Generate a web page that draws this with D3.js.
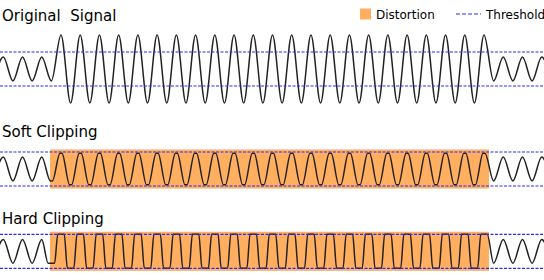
<!DOCTYPE html>
<html>
<head>
<meta charset="utf-8">
<script src="https://cdn.jsdelivr.net/npm/d3@7"></script>
<style>
    body { margin: 0; background: #fff; }
    svg { display: block; font-family: 'DejaVu Sans', sans-serif; }
</style>
</head>
<body>
<div id="chart"></div>
<script>
// panel titles
const panelTitles = ['Original  Signal', 'Soft Clipping', 'Hard Clipping'];

// signal extrema, one per half cycle, starting at t = -0.5 cycles
const firstExtremumTime = -0.5;

const originalExtrema = [
    -0.7, 0.7, -0.7, 0.7, -0.7, 0.7, -0.7,
    2, -2, 2, -2, 2, -2, 2, -2, 2, -2, 2, -2, 2, -2, 2, -2, 2, -2, 2, -2, 2, -2, 2, -2, 2,
    -2, 2, -2, 2, -2, 2, -2, 2, -2, 2, -2, 2, -2, 2, -2, 2, -2, 2, -2, 2,
    -0.7, 0.7, -0.7, 0.7, -0.7, 0.7, -0.7
];
const softExtrema = [
    -0.7, 0.7, -0.7, 0.7, -0.7, 0.7, -0.7,
    0.93, -0.93, 0.93, -0.93, 0.93, -0.93, 0.93, -0.93, 0.93, -0.93, 0.93, -0.93, 0.93, -0.93, 0.93,
    -0.93, 0.93, -0.93, 0.93, -0.93, 0.93, -0.93, 0.93, -0.93, 0.93, -0.93, 0.93, -0.93, 0.93, -0.93,
    0.93, -0.93, 0.93, -0.93, 0.93, -0.93, 0.93, -0.93, 0.93, -0.93, 0.93, -0.93, 0.93, -0.93, 0.93,
    -0.7, 0.7, -0.7, 0.7, -0.7, 0.7, -0.7
];
const hardExtrema = [
    -0.7, 0.7, -0.7, 0.7, -0.7, 0.7, -0.7,
    1, -1, 1, -1, 1, -1, 1, -1, 1, -1, 1, -1, 1, -1, 1, -1, 1, -1, 1, -1, 1, -1, 1, -1, 1,
    -1, 1, -1, 1, -1, 1, -1, 1, -1, 1, -1, 1, -1, 1, -1, 1, -1, 1, -1, 1,
    -0.7, 0.7, -0.7, 0.7, -0.7, 0.7, -0.7
];

// clipping threshold and the distorted stretch (in cycles)
const threshold = 1;
const distortionSpan = [2.43, 25.26];
const distortionLevel = 1.15;

// half width of the flat tops (cycles) per panel
const plateauWidth = [0, 0.05, 1 / 6];

const legendLabels = ['Distortion', 'Threshold'];

window.addEventListener('load', function() {
    buildChart();
});

function buildChart() {
    const svgWidth = 544;
    const svgHeight = 280;
    const pixelsPerUnit = 17;
    const panelCenters = [69, 169, 251.3];
    const titleBaselines = [21, 137, 224];
    const orange = '#ffaf5f';
    const blue = '#2a2aff';

    const svg = d3.select('#chart')
    .append('svg')
    .attr('width', svgWidth)
    .attr('height', svgHeight);

    const xScale = d3.scaleLinear()
    .domain([0, 28])
    .range([3.3, 541.7]);

    const panels = [
        { title: panelTitles[0], extrema: originalExtrema, plateau: plateauWidth[0], clipped: false },
        { title: panelTitles[1], extrema: softExtrema, plateau: plateauWidth[1], clipped: true },
        { title: panelTitles[2], extrema: hardExtrema, plateau: plateauWidth[2], clipped: true }
    ];

    panels.forEach((p, i) => {
        const c = panelCenters[i];
        const yScale = d3.scaleLinear()
        .domain([-1, 1])
        .range([c + pixelsPerUnit, c - pixelsPerUnit]);

        const g = svg.append('g').attr('class', 'panel');

        g.append('text')
        .attr('x', 2)
        .attr('y', titleBaselines[i])
        .attr('font-size', 15)
        .attr('fill', '#000')
        .style('white-space', 'pre')
        .text(p.title);

        if (p.clipped) {
            g.append('rect')
            .attr('x', xScale(distortionSpan[0]))
            .attr('y', yScale(distortionLevel))
            .attr('width', xScale(distortionSpan[1]) - xScale(distortionSpan[0]))
            .attr('height', yScale(-distortionLevel) - yScale(distortionLevel))
            .attr('fill', orange);
        }

        // build points: extrema inside the distorted stretch get a flat top
        const points = [];
        p.extrema.forEach((v, k) => {
            const t = firstExtremumTime + k / 2;
            const inside = p.clipped && t > distortionSpan[0] && t < distortionSpan[1];
            if (inside && p.plateau > 0) {
                points.push([t - p.plateau, v]);
                points.push([t + p.plateau, v]);
            } else {
                points.push([t, v]);
            }
        });

        const line = d3.line()
        .x(d => xScale(d[0]))
        .y(d => yScale(d[1]))
        .curve(d3.curveMonotoneX);

        g.append('path')
        .datum(points)
        .attr('d', line)
        .attr('fill', 'none')
        .attr('stroke', '#222')
        .attr('stroke-width', 1.5);

        g.selectAll('line.threshold')
        .data([threshold, -threshold])
        .enter()
        .append('line')
        .attr('class', 'threshold')
        .attr('x1', 0)
        .attr('x2', svgWidth)
        .attr('y1', d => yScale(d))
        .attr('y2', d => yScale(d))
        .attr('stroke', blue)
        .attr('stroke-width', 1.2)
        .attr('stroke-dasharray', '3,1.5');
    });

    // legend
    const legend = svg.append('g').attr('id', 'legend');

    legend.append('rect')
    .attr('x', 360)
    .attr('y', 8.5)
    .attr('width', 11)
    .attr('height', 11)
    .attr('fill', orange);

    legend.append('text')
    .attr('x', 376)
    .attr('y', 18.5)
    .attr('font-size', 12)
    .text(legendLabels[0]);

    legend.append('line')
    .attr('x1', 456)
    .attr('x2', 481)
    .attr('y1', 14)
    .attr('y2', 14)
    .attr('stroke', blue)
    .attr('stroke-width', 1.2)
    .attr('stroke-dasharray', '4,2');

    legend.append('text')
    .attr('x', 486)
    .attr('y', 18.5)
    .attr('font-size', 12)
    .text(legendLabels[1]);
}
</script>
</body>
</html>
